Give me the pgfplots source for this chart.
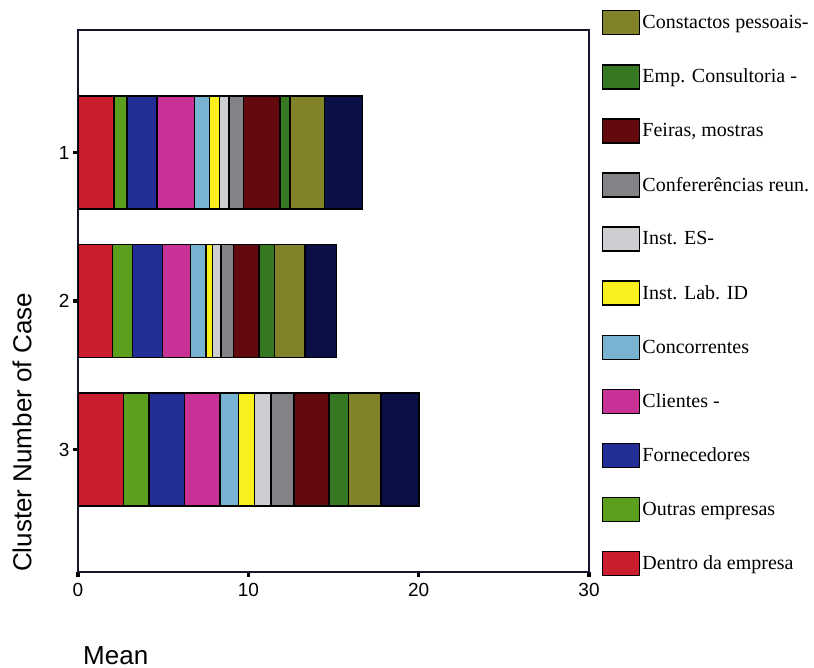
\documentclass[border=0pt]{standalone}
\usepackage{pgfplots}
\usepackage{pgfplotstable}
\pgfplotsset{compat=1.18}
\usepackage{fontspec}
\setmainfont{Liberation Sans}
\newfontfamily\legfont{Liberation Serif}
\definecolor{cRed}{RGB}{200,30,45}
\definecolor{cGreen}{RGB}{90,160,30}
\definecolor{cBlue}{RGB}{35,45,150}
\definecolor{cMag}{RGB}{200,50,150}
\definecolor{cLBlue}{RGB}{120,180,210}
\definecolor{cYel}{RGB}{250,240,30}
\definecolor{cLGray}{RGB}{205,205,210}
\definecolor{cGray}{RGB}{130,130,135}
\definecolor{cDRed}{RGB}{100,10,15}
\definecolor{cDGreen}{RGB}{55,120,35}
\definecolor{cOlive}{RGB}{130,130,40}
\definecolor{cNavy}{RGB}{10,15,70}
\definecolor{axcol}{RGB}{20,20,45}
\pgfplotstableread{
c s1 s2 s3 s4 s5 s6 s7 s8 s9 s10 s11 s12
1 2.11 0.78 1.76 2.18 0.88 0.59 0.57 0.84 2.15 0.59 2.01 2.23
2 2.04 1.15 1.76 1.64 0.93 0.39 0.49 0.74 1.49 0.90 1.80 1.86
3 2.66 1.52 2.06 2.10 1.07 0.94 0.98 1.35 2.06 1.13 1.92 2.23
}\data
\begin{document}
\begin{tikzpicture}
\path (0pt,0pt) rectangle (814pt,668pt);
\begin{axis}[
  at={(78pt,96pt)}, anchor=south west,
  scale only axis, width=511pt, height=542pt,
  xbar stacked, bar width=113pt,
  xmin=0, xmax=30, ymin=0.175, ymax=3.825, y dir=reverse,
  xtick={0,10,20,30}, ytick={1,2,3},
  tick pos=left, tick align=outside, major tick length=5pt,
  tick style={black, line width=3.5pt},
  axis line style={line width=2pt, color=axcol},
  ticklabel style={font=\fontsize{19}{22}\selectfont},
  xticklabel style={yshift=-3pt},
  /pgf/number format/assume math mode=true,
  xlabel={Mean}, ylabel={Cluster Number of Case},
  label style={font=\fontsize{26}{30}\selectfont, inner sep=0pt},
  xlabel style={at={(axis description cs:0,0)}, anchor=base west, yshift=-92pt, xshift=5pt},
  ylabel style={at={(axis description cs:-0.1096,0)}, anchor=west},
  every axis plot/.append style={draw=black, line width=1.5pt},
  legend style={at={(axis description cs:1.0254,1.037)}, anchor=north west,
    draw=none, fill=none, inner sep=0pt, outer sep=0pt,
    row sep=28.6pt, font=\legfont\fontsize{20}{24}\selectfont,
    cells={anchor=west}, nodes={inner sep=2pt}},
  legend image code/.code={\draw[#1, line width=1.5pt] (0pt,-12pt) rectangle (37pt,12pt);},
  reverse legend,
]
\addplot[fill=cRed] table[x=s1,y=c]{\data};
\addlegendentry{Dentro da empresa}
\addplot[fill=cGreen] table[x=s2,y=c]{\data};
\addlegendentry{Outras empresas}
\addplot[fill=cBlue] table[x=s3,y=c]{\data};
\addlegendentry{Fornecedores}
\addplot[fill=cMag] table[x=s4,y=c]{\data};
\addlegendentry{Clientes -}
\addplot[fill=cLBlue] table[x=s5,y=c]{\data};
\addlegendentry{Concorrentes}
\addplot[fill=cYel] table[x=s6,y=c]{\data};
\addlegendentry{Inst. Lab. ID}
\addplot[fill=cLGray] table[x=s7,y=c]{\data};
\addlegendentry{Inst. ES-}
\addplot[fill=cGray] table[x=s8,y=c]{\data};
\addlegendentry{Confererências reun.}
\addplot[fill=cDRed] table[x=s9,y=c]{\data};
\addlegendentry{Feiras, mostras}
\addplot[fill=cDGreen] table[x=s10,y=c]{\data};
\addlegendentry{Emp. Consultoria -}
\addplot[fill=cOlive] table[x=s11,y=c]{\data};
\addlegendentry{Constactos pessoais-}
\addplot[fill=cNavy, forget plot] table[x=s12,y=c]{\data};
\end{axis}
\end{tikzpicture}
\end{document}
